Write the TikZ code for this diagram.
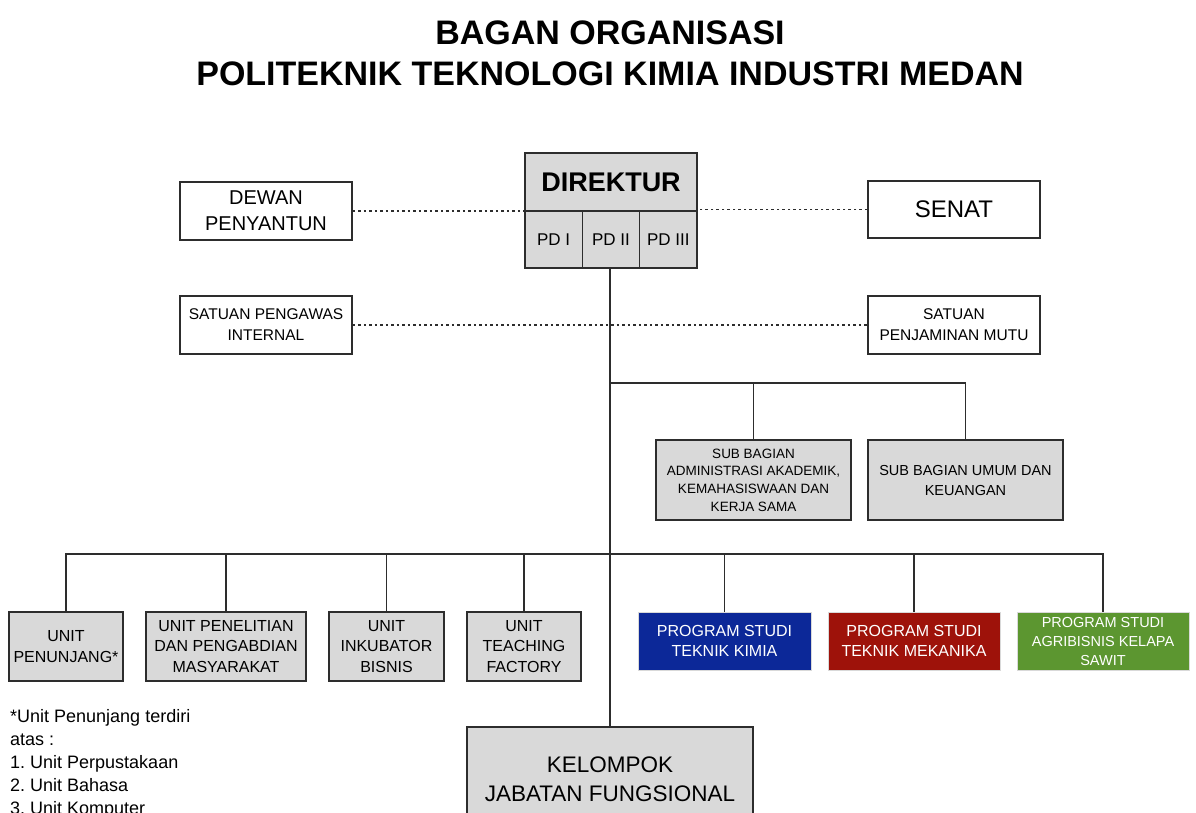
\documentclass[tikz,border=0pt]{standalone}
\usepackage{fontspec}
\setmainfont{Liberation Sans}
\frenchspacing
\definecolor{boxgray}{RGB}{217,217,217}
\definecolor{edge}{RGB}{45,45,45}
\definecolor{psblue}{RGB}{12,40,152}
\definecolor{psred}{RGB}{158,18,10}
\definecolor{psgreen}{RGB}{92,150,48}
\newcommand{\fs}[2]{\fontsize{#1}{#2}\selectfont}
\tikzset{
  box/.style={draw=edge, line width=1.5pt, fill=boxgray, inner sep=0pt, align=center, text=black},
  wbox/.style={box, fill=white},
  pbox/.style={box, draw=white!85!black, line width=0.8pt, text=white},
  conn/.style={draw=edge, line width=1.6pt},
  dotl/.style={draw=edge, line width=1.6pt, dash pattern=on 2.5pt off 3pt},
}
\begin{document}
\begin{tikzpicture}[x=1pt,y=-1pt]
\clip (0,0) rectangle (1196,812);
\fill[white] (0,0) rectangle (1196,812);
% title
\node[anchor=base, font=\bfseries\fs{34}{40}] (t1) at (610,44) {BAGAN ORGANISASI};
\node[anchor=base, font=\bfseries\fs{34}{40}] (t2) at (610,85) {POLITEKNIK TEKNOLOGI KIMIA INDUSTRI MEDAN};
% top level
\node[box, minimum width=172, minimum height=58, font=\bfseries\fs{27}{32}] (dir) at (611,182) {DIREKTUR};
\node[box, minimum width=57.33, minimum height=57, font=\fs{17}{19}] (pd1) at (553.67,239.5) {PD I};
\node[box, minimum width=57.33, minimum height=57, font=\fs{17}{19}] (pd2) at (611,239.5) {PD II};
\node[box, minimum width=57.33, minimum height=57, font=\fs{17}{19}] (pd3) at (668.33,239.5) {PD III};
\node[wbox, minimum width=172, minimum height=58, font=\fs{20}{26}] (dewan) at (266,211) {DEWAN\\PENYANTUN};
\node[wbox, minimum width=172, minimum height=57, font=\fs{24}{28}] (senat) at (954,209.5) {SENAT};
\node[wbox, minimum width=172, minimum height=58, font=\fs{15.5}{21}] (spi) at (266,325) {SATUAN PENGAWAS\\INTERNAL};
\node[wbox, minimum width=172, minimum height=58, font=\fs{15.5}{21}] (spm) at (954,325) {SATUAN\\PENJAMINAN MUTU};
% dotted links
\draw[dotl] (dewan.east) -- (dewan.east -| dir.west);
\draw[dotl] (senat.west) -- (senat.west -| dir.east);
\draw[dotl] (spi.east) -- (spm.west);
% sub bagian
\node[box, minimum width=195, minimum height=80, font=\fs{13.5}{17.7}] (sba) at (753.5,480) {SUB BAGIAN\\ADMINISTRASI AKADEMIK,\\KEMAHASISWAAN DAN\\KERJA SAMA};
\node[box, minimum width=195, minimum height=80, font=\fs{14.5}{20}] (sbu) at (965.5,480) {SUB BAGIAN UMUM DAN\\KEUANGAN};
% units
\node[box, minimum width=114, minimum height=69, font=\fs{16}{20.5}] (u1) at (66,646.5) {UNIT\\PENUNJANG*};
\node[box, minimum width=160, minimum height=69, font=\fs{16}{20.5}] (u2) at (226,646.5) {UNIT PENELITIAN\\DAN PENGABDIAN\\MASYARAKAT};
\node[box, minimum width=115, minimum height=69, font=\fs{16}{20.5}] (u3) at (386.5,646.5) {UNIT\\INKUBATOR\\BISNIS};
\node[box, minimum width=114, minimum height=69, font=\fs{16}{20.5}] (u4) at (524,646.5) {UNIT\\TEACHING\\FACTORY};
\node[pbox, fill=psblue, minimum width=173, minimum height=58, font=\fs{16}{20.5}] (p1) at (724.5,641) {PROGRAM STUDI\\TEKNIK KIMIA};
\node[pbox, fill=psred, minimum width=172, minimum height=58, font=\fs{16}{20.5}] (p2) at (914,641) {PROGRAM STUDI\\TEKNIK MEKANIKA};
\node[pbox, fill=psgreen, minimum width=172, minimum height=58, font=\fs{14.5}{19}] (p3) at (1103,641) {PROGRAM STUDI\\AGRIBISNIS KELAPA\\SAWIT};
% kelompok
\node[box, minimum width=286, minimum height=104, font=\fs{22.5}{29}] (kel) at (610,779) {KELOMPOK\\JABATAN FUNGSIONAL};
% footnote
\node[anchor=north west, inner sep=0pt, align=left, font=\fs{18}{23}] (fn) at (10,709) {*Unit Penunjang terdiri\\atas :\\1. Unit Perpustakaan\\2. Unit Bahasa\\3. Unit Komputer};
% connectors
\coordinate (trunk) at (610,268);
\coordinate (b1) at (610,383);
\coordinate (b2) at (610,554);
\draw[conn] (trunk) -- (kel.north);
\draw[conn] (b1) -| (sba.north);
\draw[conn] (b1) -| (sbu.north);
\draw[conn] (b2) -| (u1.north);
\draw[conn] (b2) -| (u2.north);
\draw[conn] (b2) -| (u3.north);
\draw[conn] (b2) -| (u4.north);
\draw[conn] (b2) -| (p1.north);
\draw[conn] (b2) -| (p2.north);
\draw[conn] (b2) -| (p3.north);
\end{tikzpicture}
\end{document}
